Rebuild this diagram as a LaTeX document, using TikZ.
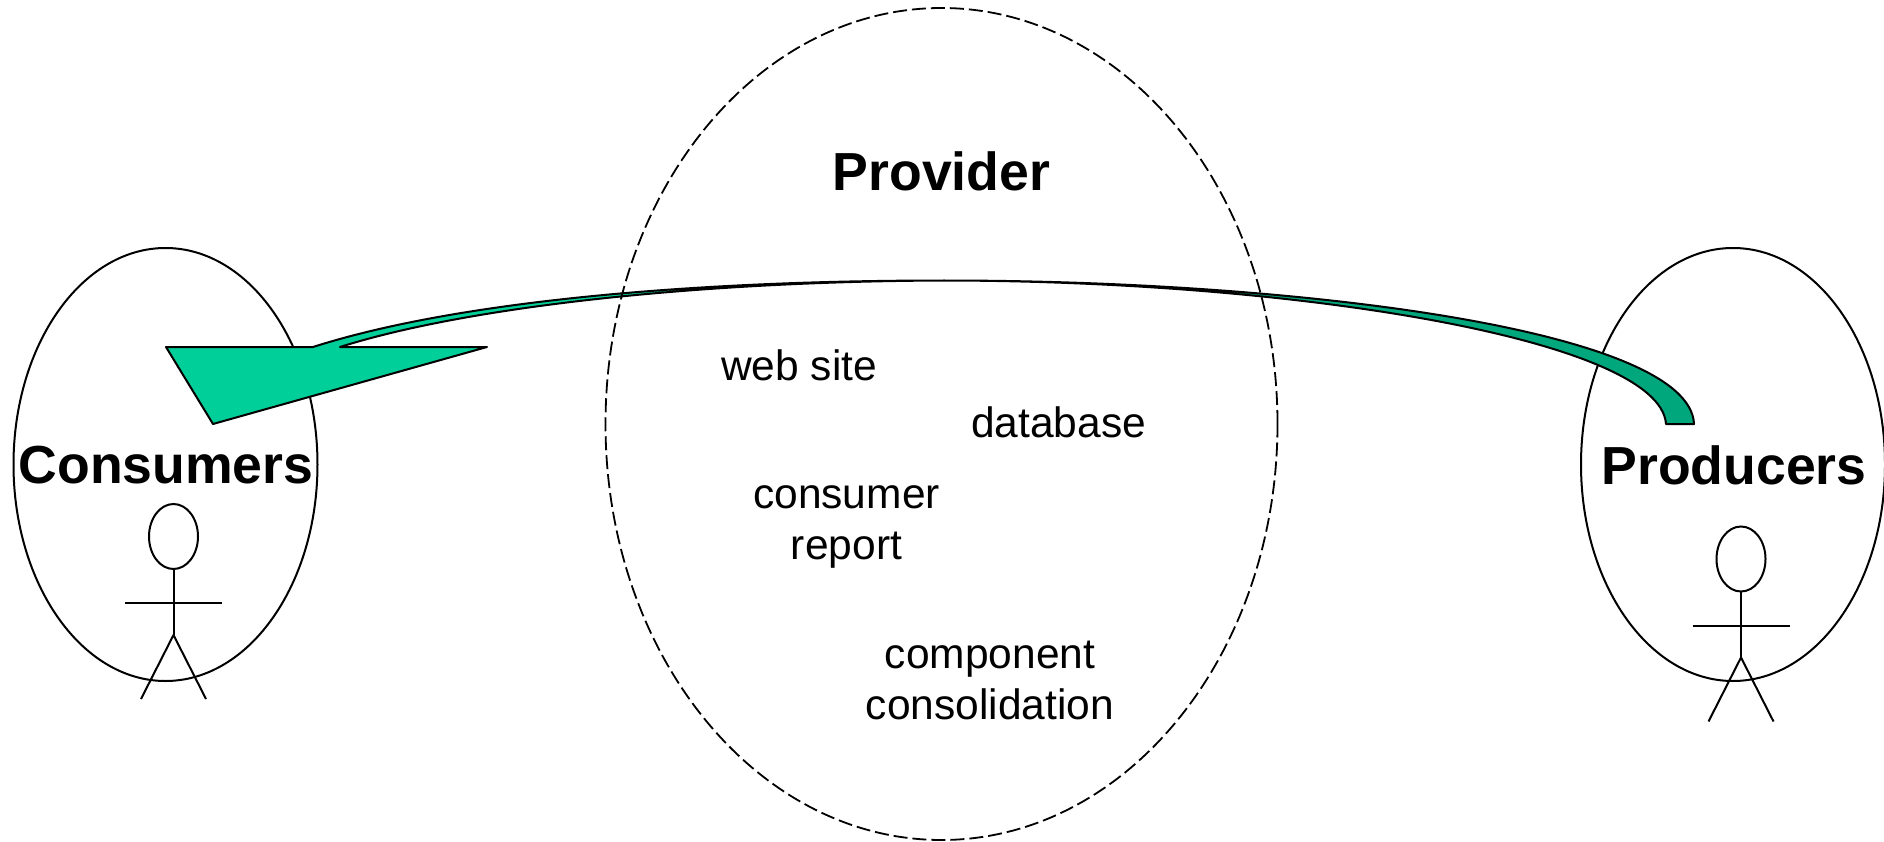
\documentclass[tikz,border=0pt]{standalone}
\usepackage{fontspec}
\setmainfont{Liberation Sans}
\usetikzlibrary{shapes.geometric}
\definecolor{headgreen}{HTML}{00CF9A}
\definecolor{tailgreen}{HTML}{00A67C}
\tikzset{
  oval/.style={draw=black,line width=2pt,ellipse,inner sep=0pt,outer sep=0pt,minimum width=#1},
  big/.style={font=\fontsize{53.6}{60}\selectfont\bfseries,align=center,inner sep=0pt},
  small/.style={font=\fontsize{42.5}{50.5}\selectfont,align=center,inner sep=0pt},
  limb/.style={draw=black,line width=2pt},
  band/.style={draw=black,line width=2pt,line join=round}
}
\newcommand{\actor}[3]{%
  \node[oval=49pt,minimum height=65pt] (#3head) at (#1,#2) {};
  \coordinate (#3hip) at (#1,#2+98.5);
  \coordinate (#3armL) at (#1-48.5,#2+66.5);
  \coordinate (#3armR) at (#1+48.5,#2+66.5);
  \coordinate (#3legL) at (#1-32.5,#2+162.5);
  \coordinate (#3legR) at (#1+32.5,#2+162.5);
  \draw[limb] (#3head.south) -- (#3hip);
  \draw[limb] (#3armL) -- (#3armR);
  \draw[limb] (#3legL) -- (#3hip) -- (#3legR);
}
\begin{document}
\begin{tikzpicture}[x=1pt,y=-1pt]
\useasboundingbox (0,0) rectangle (1884,842);
\node[oval=304pt,minimum height=433pt] (consumers) at (165.5,464.5) {};
\node[oval=304pt,minimum height=433pt] (producers) at (1733,464.5) {};
\actor{173.5}{536.5}{c}
\actor{1741}{559}{p}
% arrow
\coordinate (apex) at (944,280.5);
\fill[headgreen] (166,347) -- (313,347) .. controls (460,300) and (700,280.5) .. (apex) .. controls (700,281.5) and (470,306) .. (340,347) -- (487,347) -- (213,424) -- cycle;
\fill[tailgreen] (apex) .. controls (1300,280.5) and (1690,330) .. (1694,424) -- (1666,424) .. controls (1660,340) and (1300,281) .. (apex) -- cycle;
\draw[band] (apex) .. controls (700,281.5) and (470,306) .. (340,347) -- (487,347) -- (213,424) -- (166,347) -- (313,347) .. controls (460,300) and (700,280.5) .. (apex);
\draw[band] (apex) .. controls (1300,280.5) and (1690,330) .. (1694,424) -- (1666,424) .. controls (1660,340) and (1300,281) .. (apex);
\node[oval=672pt,minimum height=832pt,line width=1.8pt,dash pattern=on 14pt off 5pt] (provider) at (941.5,424) {};
\node[big] (ptitle) at (941.5,171) {Provider};
\node[big] (ctitle) at (166,465.5) {Consumers};
\node[big] (rtitle) at (1734,465.5) {Producers};
\node[small] (web) at (799,365) {web site};
\node[small] (db) at (1058.5,422) {database};
\node[small] (report) at (846.5,527) {consumer\\report};
\node[small] (cons) at (990,680.5) {component\\consolidation};
\end{tikzpicture}
\end{document}
